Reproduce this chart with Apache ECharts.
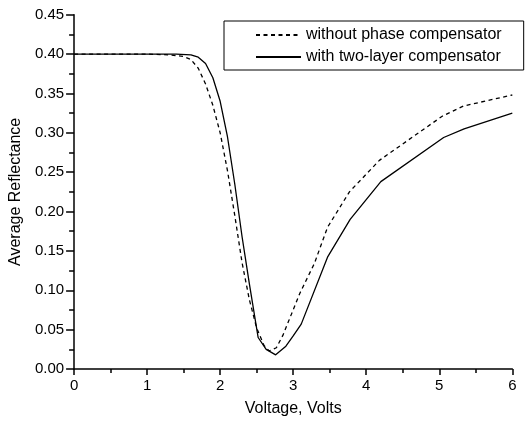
<!DOCTYPE html>
<html>
<head>
<meta charset="utf-8">
<script src="https://cdn.jsdelivr.net/npm/echarts@6/dist/echarts.min.js"></script>
<style>html,body{margin:0;padding:0;background:#fff}#c{width:529px;height:423px}</style>
</head>
<body>
<div id="c"></div>
<script>
// Series: without phase compensator (dashed)
const voltsA = [0, 0.5, 1.0, 1.3, 1.5, 1.6, 1.7, 1.8, 1.9, 2.0, 2.1, 2.2, 2.3, 2.4, 2.5, 2.6, 2.67, 2.77, 2.86, 3.09, 3.29, 3.47, 3.77, 4.18, 5.04, 5.33, 6.0];
const reflA = [0.40, 0.40, 0.40, 0.399, 0.397, 0.393, 0.382, 0.362, 0.335, 0.30, 0.252, 0.195, 0.135, 0.088, 0.052, 0.030, 0.023, 0.027, 0.043, 0.096, 0.134, 0.18, 0.225, 0.265, 0.321, 0.334, 0.348];
// Series: with two-layer compensator (solid)
const voltsB = [0, 0.5, 1.0, 1.4, 1.6, 1.7, 1.8, 1.9, 2.0, 2.1, 2.2, 2.3, 2.4, 2.52, 2.63, 2.76, 2.9, 3.0, 3.11, 3.47, 3.78, 4.2, 5.06, 5.34, 6.0];
const reflB = [0.40, 0.40, 0.40, 0.40, 0.399, 0.396, 0.388, 0.37, 0.34, 0.295, 0.235, 0.168, 0.108, 0.04, 0.025, 0.018, 0.029, 0.042, 0.057, 0.142, 0.19, 0.238, 0.294, 0.305, 0.325];
const seriesNames = ['without phase compensator', 'with two-layer compensator'];
const xTitle = 'Voltage, Volts';
const yTitle = 'Average Reflectance';

const FONT = 'Liberation Sans, Arial, sans-serif';
const pair = (xs, ys) => xs.map((x, i) => [x, ys[i]]);
const chart = echarts.init(document.getElementById('c'));
chart.setOption({
  animation: false,
  textStyle: { fontFamily: FONT, color: '#000' },
  grid: { left: 71.7, right: 16.7, top: 14.7, bottom: 54 },
  legend: {
    orient: 'vertical', left: 224, top: 21,
    borderColor: '#000', borderWidth: 1,
    padding: [6, 22, 5, 31], itemGap: 6, itemWidth: 45, itemHeight: 14,
    textStyle: { fontFamily: FONT, fontSize: 16, color: '#000' },
    itemStyle: { opacity: 0 },
    data: seriesNames
  },
  xAxis: {
    type: 'value', min: 0, max: 6, interval: 1,
    name: xTitle, nameLocation: 'middle', nameGap: 32,
    nameTextStyle: { fontFamily: FONT, fontSize: 16, color: '#000' },
    axisLine: { onZero: false, lineStyle: { color: '#000', width: 1.5 } },
    axisTick: { inside: false, length: 6, lineStyle: { color: '#000', width: 1.5 } },
    minorTick: { show: true, splitNumber: 2, length: 4, lineStyle: { color: '#000', width: 1.5 } },
    axisLabel: { fontFamily: FONT, fontSize: 15, color: '#000', margin: 9 },
    splitLine: { show: false }
  },
  yAxis: {
    type: 'value', min: 0, max: 0.45, interval: 0.05,
    name: yTitle, nameLocation: 'middle', nameGap: 48.5, nameRotate: 90,
    nameTextStyle: { fontFamily: FONT, fontSize: 16, color: '#000' },
    axisLine: { onZero: false, lineStyle: { color: '#000', width: 1.5 } },
    axisTick: { inside: false, length: 8, lineStyle: { color: '#000', width: 1.5 } },
    minorTick: { show: true, splitNumber: 2, length: 5, lineStyle: { color: '#000', width: 1.5 } },
    axisLabel: { fontFamily: FONT, fontSize: 15, color: '#000', margin: 10, formatter: v => v.toFixed(2) },
    splitLine: { show: false }
  },
  series: [
    { name: seriesNames[0], type: 'line', data: pair(voltsA, reflA), showSymbol: false, symbol: 'none',
      lineStyle: { color: '#000', width: 1.3, type: [4, 3.5] }, itemStyle: { color: '#000' } },
    { name: seriesNames[1], type: 'line', data: pair(voltsB, reflB), showSymbol: false, symbol: 'none',
      lineStyle: { color: '#000', width: 1.3, type: 'solid' }, itemStyle: { color: '#000' } }
  ]
});
</script>
</body>
</html>
